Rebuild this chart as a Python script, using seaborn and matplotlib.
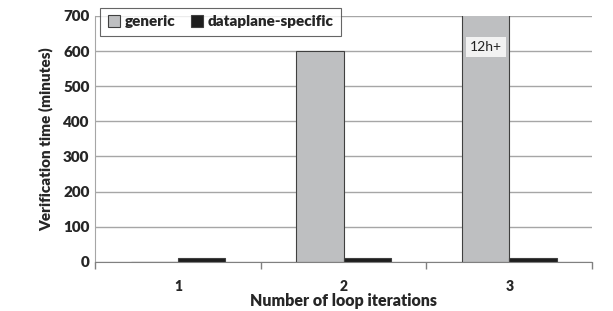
import pandas as pd
import matplotlib.pyplot as plt
import seaborn as sns

# values
iterations = ["1", "2", "3"]
generic = [1, 600, 720]          # 3rd bar is "12h+" and clipped at 700
dataplane = [10, 10, 10]
series = ["generic", "dataplane-specific"]

df = pd.DataFrame({
    "iter": iterations * 2,
    "minutes": generic + dataplane,
    "kind": [series[0]] * 3 + [series[1]] * 3,
})

sns.set_style("white")
plt.rcParams["font.family"] = ["Lato", "DejaVu Sans"]
W = "heavy"

fig = plt.figure(figsize=(6.13, 3.11), dpi=100)
ax = fig.add_axes([0.155, 0.158, 0.811, 0.791])

sns.barplot(data=df, x="iter", y="minutes", hue="kind", order=iterations,
            hue_order=series, palette=["#BEBFC1", "#1E1E1E"], width=0.57,
            edgecolor="#404040", linewidth=0.8, saturation=1, ax=ax)

ax.set_ylim(0, 700)
ax.set_xlim(-0.5, 2.5)
ax.set_yticks(range(0, 701, 100))
ax.yaxis.grid(True, color="#A6A6A6", linewidth=1)
ax.set_axisbelow(True)
for s in ["top", "right"]:
    ax.spines[s].set_visible(False)
ax.spines["left"].set_color("#A6A6A6")
ax.spines["bottom"].set_color("#808080")

ax.tick_params(axis="x", length=0, labelsize=10, pad=13)
ax.tick_params(axis="y", length=0, labelsize=11, pad=4)
ax.set_xticks([-0.5, 0.5, 1.5, 2.5], minor=True)
ax.tick_params(axis="x", which="minor", bottom=True, length=5, width=1,
               color="#808080", direction="out")
for lab in ax.get_xticklabels() + ax.get_yticklabels():
    lab.set_fontweight(W)

ax.set_xlabel("Number of loop iterations", fontsize=11.5, fontweight=W, labelpad=0)
ax.set_ylabel("Verification time (minutes)", fontsize=11, fontweight=W, labelpad=7)

ax.text(2 - 0.1425, 612, "12h+", ha="center", va="center", fontsize=10,
        color="#222222", bbox=dict(facecolor="#F2F2F2", edgecolor="none", pad=3))

leg = ax.legend(loc="upper left", bbox_to_anchor=(-0.005, 1.065), ncol=2, frameon=True,
                fancybox=False, handlelength=0.8, handleheight=0.8, handletextpad=0.3,
                columnspacing=1.0, borderpad=0.5, prop={"weight": W, "size": 11})
leg.get_frame().set_edgecolor("#404040")
leg.get_frame().set_linewidth(0.8)

fig.savefig("out.png", dpi=100)
